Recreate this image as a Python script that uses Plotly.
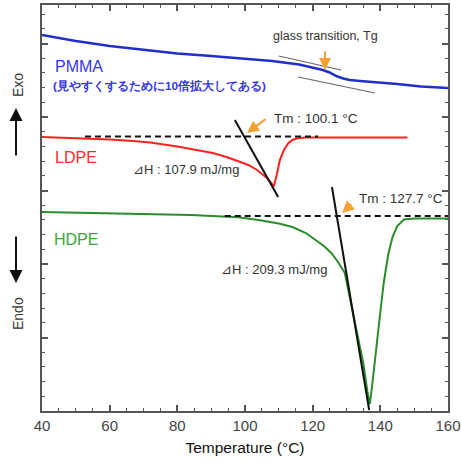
import plotly.graph_objects as go

# ---- data (heat flow in arbitrary units, 0 = bottom of frame) ----
temp_pmma = [40, 50, 60, 70, 80, 90, 100, 108, 116, 120, 123, 125, 127, 129, 131, 134, 138, 145, 152, 160]
hf_pmma = [376, 370, 365, 361, 357.5, 355, 352.5, 350, 346.5, 343.5, 341, 338.5, 335, 332.5, 331, 330, 329, 327, 324.5, 323]

temp_ldpe = [40, 50, 60, 66, 72, 80, 86, 90.5, 95, 98.5, 101, 103.6, 105.5, 106.8, 107.8, 108.5,
             109.3, 110.3, 111.5, 112.8, 114, 115.5, 118, 125, 135, 148]
hf_ldpe = [274, 273, 271.5, 270.3, 268.5, 264.5, 261, 258, 253.5, 249.3, 246, 241, 236, 232, 228, 224.5,
           235, 251, 261, 267.7, 271, 272.7, 273.5, 273.5, 273.5, 273.5]

temp_hdpe = [40, 55, 70, 84, 98, 104, 110, 114, 118, 121, 123.5, 125.5, 127.5, 129.5, 131, 133, 135, 136.2,
             136.9, 137.6, 138.5, 139.8, 141, 142.3, 143.6, 145, 147, 150, 160]
hf_hdpe = [199, 198, 197, 196, 193.7, 191, 187.5, 184, 178, 171, 164.5, 158, 149, 138, 114, 81, 47, 19,
           7, 26, 56, 93, 128, 156, 174, 185, 191.5, 192.5, 192.5]

# construction lines
tg_upper_t, tg_upper_hf = [110.0, 128.4], [355, 341]
tg_lower_t, tg_lower_hf = [115.7, 138.4], [334, 318]
ldpe_base_t, ldpe_base_hf = [52.7, 121.6], [274.5, 274.5]
ldpe_tan_t, ldpe_tan_hf = [97.0, 109.8], [291, 214]
hdpe_base_t, hdpe_base_hf = [94.0, 160.0], [195, 195]
hdpe_tan_t, hdpe_tan_hf = [125.7, 136.7], [224, 1]

tg_label = "glass transition, Tg"
tm_ldpe_label = "Tm : 100.1 °C"
tm_hdpe_label = "Tm : 127.7 °C"
dh_ldpe_label = "⊿H : 107.9 mJ/mg"
dh_hdpe_label = "⊿H : 209.3 mJ/mg"
pmma_note = "(見やすくするために10倍拡大してある)"

FONT = "Liberation Sans, Arial, sans-serif"
ORANGE = "#f5a030"
TXT = "#333333"
AX = "#555555"

fig = go.Figure()

def line(x, y, color, width, dash=None):
    fig.add_trace(go.Scatter(x=x, y=y, mode="lines", showlegend=False, hoverinfo="skip",
                             line=dict(color=color, width=width, dash=dash)))

line(tg_upper_t, tg_upper_hf, "#666666", 1.2)
line(tg_lower_t, tg_lower_hf, "#666666", 1.2)
line(temp_pmma, hf_pmma, "#1f2fc8", 2.5)
line(temp_ldpe, hf_ldpe, "#ff2020", 2)
line(temp_hdpe, hf_hdpe, "#2a8c2a", 2)
line(ldpe_base_t, ldpe_base_hf, "#111111", 2, "6px,4px")
line(hdpe_base_t, hdpe_base_hf, "#111111", 2, "6px,4px")
line(ldpe_tan_t, ldpe_tan_hf, "#111111", 2)
line(hdpe_tan_t, hdpe_tan_hf, "#111111", 2)

# invisible trace to activate the mirrored top/right tick axes
fig.add_trace(go.Scatter(x=[40], y=[0], xaxis="x2", yaxis="y2", mode="markers", opacity=0,
                         showlegend=False, hoverinfo="skip"))

ann = []
def text(x, y, s, size, color, xanchor="left", bold=False):
    ann.append(dict(x=x, y=y, xref="x", yref="y", text=("<b>%s</b>" % s) if bold else s,
                    showarrow=False, xanchor=xanchor, yanchor="middle",
                    font=dict(size=size, color=color, family=FONT)))

text(123.9, 375, tg_label, 12.5, TXT, "center")
text(107.9, 293, tm_ldpe_label, 13.5, TXT)
text(133.0, 213, tm_hdpe_label, 13.5, TXT)
text(66.2, 242, dh_ldpe_label, 13, TXT)
text(92.4, 142, dh_hdpe_label, 13, TXT)
text(43.2, 345, "PMMA", 16, "#3535ee")
text(42.6, 325, pmma_note, 11.7, "#3535ee", bold=True)
text(43.3, 254, "LDPE", 16, "#ff2a2a")
text(43.0, 172, "HDPE", 16, "#3aa63a")

def arrow(x, y, ax, ay, color, width=2, size=1.2):
    ann.append(dict(x=x, y=y, ax=ax, ay=ay, xref="x", yref="y", axref="x", ayref="y",
                    showarrow=True, arrowhead=2, arrowsize=size, arrowwidth=width,
                    arrowcolor=color, standoff=0, startstandoff=0, text=""))

arrow(123.65, 341, 123.65, 361, ORANGE)
arrow(100.6, 278, 106.5, 293, ORANGE)
arrow(128.7, 198, 131.9, 208, ORANGE)

# Exo / Endo indicators
ann.append(dict(x=-0.064, y=0.746, xref="paper", yref="paper", ax=0, ay=49, showarrow=True,
                arrowhead=2, arrowsize=1.3, arrowwidth=2, arrowcolor="#111111", text="", standoff=0))
ann.append(dict(x=-0.064, y=0.315, xref="paper", yref="paper", ax=0, ay=-48, showarrow=True,
                arrowhead=2, arrowsize=1.3, arrowwidth=2, arrowcolor="#111111", text="", standoff=0))
ann.append(dict(x=-0.059, y=0.803, xref="paper", yref="paper", text="Exo", textangle=-90,
                xanchor="center", yanchor="middle",
                showarrow=False, font=dict(size=14, color=TXT, family=FONT)))
ann.append(dict(x=-0.059, y=0.239, xref="paper", yref="paper", text="Endo", textangle=-90,
                xanchor="center", yanchor="middle",
                showarrow=False, font=dict(size=14, color=TXT, family=FONT)))

tick_common = dict(ticks="inside", ticklen=6, tickwidth=1.5, tickcolor=AX, showgrid=False, zeroline=False,
                   showline=True, linecolor=AX, linewidth=2)

fig.update_layout(
    width=461, height=465,
    margin=dict(l=42, r=13, t=5, b=54, autoexpand=False),
    paper_bgcolor="white", plot_bgcolor="white",
    annotations=ann,
    font=dict(family=FONT, color=TXT),
    xaxis=dict(range=[40, 160], tick0=40, dtick=20, automargin=False, ticklabeloverflow="allow",
               tickfont=dict(size=15, color="#444444", family=FONT),
               minor=dict(dtick=5, ticks="inside", ticklen=3, tickcolor=AX, tickwidth=1),
               title=dict(text="Temperature (°C)", font=dict(size=15.5, color="#111111", family=FONT), standoff=9),
               **tick_common),
    yaxis=dict(range=[0, 406], tick0=0, dtick=73.5, automargin=False, showticklabels=False,
               minor=dict(dtick=14.7, ticks="inside", ticklen=3, tickcolor=AX, tickwidth=1),
               **tick_common),
    xaxis2=dict(range=[40, 160], tick0=40, dtick=20, overlaying="x", side="top", showticklabels=False,
                automargin=False, anchor="y2",
                minor=dict(dtick=5, ticks="inside", ticklen=3, tickcolor=AX, tickwidth=1), **tick_common),
    yaxis2=dict(range=[0, 406], tick0=0, dtick=73.5, overlaying="y", side="right", showticklabels=False,
                automargin=False, anchor="x2",
                minor=dict(dtick=14.7, ticks="inside", ticklen=3, tickcolor=AX, tickwidth=1), **tick_common),
)

fig.write_html("out.html", config={"displayModeBar": False, "responsive": False},
               post_script="document.body.style.margin='0';document.body.style.overflow='hidden';")
